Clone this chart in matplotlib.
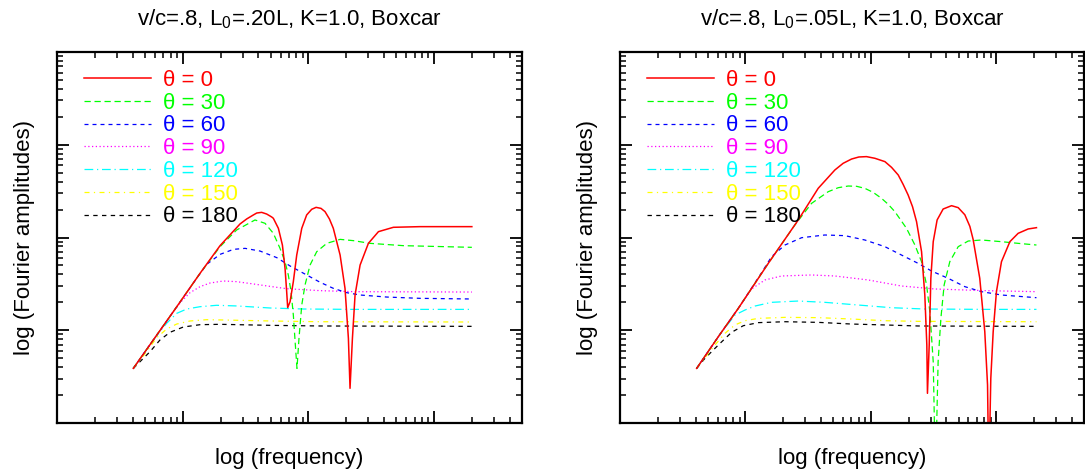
import numpy as np
import matplotlib
matplotlib.use('Agg')
import matplotlib.pyplot as plt
from matplotlib.ticker import LogLocator, NullFormatter

plt.rcParams['font.family'] = ['Liberation Sans', 'DejaVu Sans']
plt.rcParams['mathtext.fontset'] = 'custom'
plt.rcParams['mathtext.rm'] = 'Liberation Sans'
plt.rcParams['mathtext.it'] = 'Liberation Sans:italic'

# ---------------- data (log10 frequency, log10 amplitude) ----------------
thetas = [0, 30, 60, 90, 120, 150, 180]
titles = ['v/c=.8, L$_0$=.20L, K=1.0, Boxcar', 'v/c=.8, L$_0$=.05L, K=1.0, Boxcar']

# Panel 1: L0 = .20L
p1_t0_logf = [0.607, 0.766, 0.925, 1.138, 1.297, 1.456, 1.509, 1.562, 1.589, 1.628, 1.668, 1.708, 1.721, 1.761,
              1.793, 1.814, 1.827, 1.835, 1.854, 1.880, 1.907, 1.947, 1.986, 2.026, 2.061, 2.100, 2.132, 2.167,
              2.198, 2.252, 2.291, 2.318, 2.331, 2.350, 2.371, 2.411, 2.477, 2.557, 2.676, 2.888, 3.30]
p1_t0_logA = [-1.411, -1.105, -0.800, -0.386, -0.088, 0.146, 0.200, 0.243, 0.264, 0.271, 0.253, 0.221, 0.207,
              0.099, -0.081, -0.332, -0.584, -0.756, -0.692, -0.476, -0.189, 0.099, 0.243, 0.304, 0.325, 0.314,
              0.279, 0.200, 0.099, -0.189, -0.548, -1.087, -1.626, -1.087, -0.620, -0.297, -0.063, 0.063, 0.110,
              0.117, 0.117]
p1_t30_logf = [0.607, 0.766, 0.925, 1.138, 1.297, 1.429, 1.575, 1.655, 1.721, 1.774, 1.814, 1.840, 1.862, 1.880,
               1.896, 1.909, 1.925, 1.947, 1.973, 2.013, 2.066, 2.146, 2.252, 2.358, 2.490, 2.755, 3.30]
p1_t30_logA = [-1.411, -1.105, -0.800, -0.386, -0.099, 0.081, 0.189, 0.153, 0.045, -0.117, -0.261, -0.404, -0.584,
               -0.836, -1.159, -1.411, -1.087, -0.728, -0.512, -0.297, -0.153, -0.063, -0.020, -0.034, -0.063,
               -0.088, -0.106]
p1_t60_logf = [0.607, 0.766, 0.925, 1.111, 1.191, 1.297, 1.403, 1.496, 1.615, 1.748, 1.854, 1.986, 2.093, 2.198,
               2.305, 2.411, 2.623, 2.888, 3.30]
p1_t60_logA = [-1.411, -1.105, -0.800, -0.440, -0.289, -0.182, -0.128, -0.117, -0.146, -0.217, -0.307, -0.404,
               -0.483, -0.548, -0.595, -0.620, -0.642, -0.656, -0.663]
p1_t90_logf = [0.607, 0.766, 0.925, 0.992, 1.058, 1.138, 1.217, 1.323, 1.429, 1.562, 1.695, 1.827, 2.093, 2.358, 3.30]
p1_t90_logA = [-1.411, -1.105, -0.800, -0.685, -0.595, -0.530, -0.491, -0.469, -0.476, -0.501, -0.527, -0.552,
               -0.573, -0.584, -0.588]
p1_t120_logf = [0.607, 0.766, 0.872, 0.952, 1.032, 1.138, 1.270, 1.429, 1.695, 1.960, 2.358, 3.30]
p1_t120_logA = [-1.411, -1.105, -0.925, -0.818, -0.771, -0.746, -0.731, -0.738, -0.760, -0.771, -0.775, -0.775]
p1_t150_logf = [0.607, 0.713, 0.793, 0.872, 0.952, 1.058, 1.191, 1.350, 1.695, 2.093, 3.30]
p1_t150_logA = [-1.411, -1.231, -1.080, -0.987, -0.933, -0.900, -0.886, -0.890, -0.900, -0.908, -0.911]
p1_t180_logf = [0.607, 0.740, 0.819, 0.899, 1.005, 1.138, 1.297, 1.695, 2.093, 3.30]
p1_t180_logA = [-1.411, -1.231, -1.105, -1.022, -0.965, -0.940, -0.936, -0.947, -0.954, -0.958]

# Panel 2: L0 = .05L
p2_t0_logf = [0.611, 0.784, 0.943, 1.182, 1.421, 1.580, 1.713, 1.779, 1.846, 1.904, 1.965, 2.032, 2.112, 2.165,
              2.218, 2.257, 2.297, 2.332, 2.364, 2.404, 2.430, 2.446, 2.451, 2.465, 2.478, 2.497, 2.528, 2.576,
              2.643, 2.696, 2.749, 2.789, 2.815, 2.868, 2.908, 2.930, 2.940, 2.956, 2.975, 3.001, 3.041, 3.108,
              3.174, 3.254, 3.320]
p2_t0_logA = [-1.411, -1.069, -0.764, -0.279, 0.189, 0.530, 0.728, 0.800, 0.846, 0.868, 0.872, 0.854, 0.818, 0.756,
              0.674, 0.573, 0.458, 0.332, 0.171, -0.153, -0.620, -1.159, -1.680, -1.159, -0.440, -0.045, 0.189,
              0.307, 0.343, 0.322, 0.245, 0.120, -0.020, -0.440, -1.015, -1.590, -2.6, -1.518, -1.015, -0.584,
              -0.261, -0.045, 0.045, 0.092, 0.106]
p2_t30_logf = [0.611, 0.784, 0.943, 1.182, 1.394, 1.527, 1.660, 1.740, 1.819, 1.886, 1.952, 2.018, 2.085, 2.138,
               2.191, 2.284, 2.351, 2.404, 2.444, 2.470, 2.497, 2.515, 2.536, 2.558, 2.584, 2.629, 2.696, 2.776,
               2.882, 3.041, 3.174, 3.320]
p2_t30_logA = [-1.411, -1.069, -0.764, -0.279, 0.135, 0.368, 0.494, 0.537, 0.555, 0.552, 0.530, 0.487, 0.422,
               0.358, 0.279, 0.099, -0.081, -0.261, -0.512, -0.800, -1.339, -2.6, -1.339, -0.872, -0.512, -0.261,
               -0.099, -0.038, -0.027, -0.045, -0.063, -0.081]
p2_t60_logf = [0.611, 0.784, 0.943, 1.129, 1.208, 1.315, 1.448, 1.633, 1.793, 1.952, 2.112, 2.244, 2.377, 2.483,
               2.616, 2.749, 2.882, 3.041, 3.320]
p2_t60_logA = [-1.411, -1.069, -0.764, -0.379, -0.207, -0.081, -0.002, 0.027, 0.020, -0.027, -0.099, -0.189,
               -0.279, -0.361, -0.440, -0.530, -0.584, -0.620, -0.649]
p2_t90_logf = [0.611, 0.784, 0.943, 1.049, 1.155, 1.288, 1.527, 1.713, 1.979, 2.244, 2.510, 2.908, 3.320]
p2_t90_logA = [-1.411, -1.069, -0.764, -0.555, -0.458, -0.415, -0.404, -0.415, -0.458, -0.523, -0.555, -0.573, -0.584]
p2_t120_logf = [0.611, 0.784, 0.916, 0.996, 1.076, 1.208, 1.421, 1.633, 1.899, 2.165, 2.430, 2.908, 3.320]
p2_t120_logA = [-1.411, -1.069, -0.836, -0.782, -0.739, -0.699, -0.685, -0.699, -0.728, -0.757, -0.771, -0.775, -0.775]
p2_t150_logf = [0.611, 0.757, 0.837, 0.916, 0.996, 1.102, 1.315, 1.580, 1.846, 2.112, 2.377, 3.320]
p2_t150_logA = [-1.411, -1.159, -1.033, -0.943, -0.897, -0.872, -0.861, -0.864, -0.879, -0.897, -0.904, -0.908]
p2_t180_logf = [0.611, 0.677, 0.784, 0.890, 0.983, 1.102, 1.315, 1.580, 1.846, 2.112, 2.377, 3.320]
p2_t180_logA = [-1.411, -1.303, -1.159, -1.022, -0.951, -0.918, -0.908, -0.915, -0.933, -0.943, -0.954, -0.958]

panel1 = [(p1_t0_logf, p1_t0_logA), (p1_t30_logf, p1_t30_logA), (p1_t60_logf, p1_t60_logA),
          (p1_t90_logf, p1_t90_logA), (p1_t120_logf, p1_t120_logA), (p1_t150_logf, p1_t150_logA),
          (p1_t180_logf, p1_t180_logA)]
panel2 = [(p2_t0_logf, p2_t0_logA), (p2_t30_logf, p2_t30_logA), (p2_t60_logf, p2_t60_logA),
          (p2_t90_logf, p2_t90_logA), (p2_t120_logf, p2_t120_logA), (p2_t150_logf, p2_t150_logA),
          (p2_t180_logf, p2_t180_logA)]

# ---------------- styles ----------------
colors = ['#ff0000', '#00ff00', '#0000ff', '#ff00ff', '#00ffff', '#ffff00', '#000000']
dash_patterns = [None, (5, 3), (3.2, 3.2), (1, 2), (7, 3, 1, 3), (4, 3.5, 1, 3.5), (3.5, 3.5)]
FS = 16

fig = plt.figure(figsize=(10.85, 4.75), dpi=100)
axes_rects = [[57 / 1085, 52 / 475, 465 / 1085, 371 / 475],
              [620 / 1085, 52 / 475, 464 / 1085, 371 / 475]]

for rect, title, panel in zip(axes_rects, titles, [panel1, panel2]):
    ax = fig.add_axes(rect)
    handles = [None] * len(thetas)
    for i in reversed(range(len(thetas))):
        lf, la = panel[i]
        line, = ax.plot(10 ** np.array(lf), 10 ** np.array(la), color=colors[i],
                        lw=1.1 if i == 0 else 0.9, label='\u03b8 = %d' % thetas[i])
        if dash_patterns[i] is not None:
            line.set_dashes(dash_patterns[i])
        handles[i] = line
    ax.set_xscale('log')
    ax.set_yscale('log')
    ax.set_xlim(1, 5000)
    ax.set_ylim(1e-2, 1e2)
    for axis in (ax.xaxis, ax.yaxis):
        axis.set_major_locator(LogLocator(base=10, numticks=20))
        axis.set_minor_locator(LogLocator(base=10, subs=np.arange(2, 10), numticks=20))
        axis.set_major_formatter(NullFormatter())
        axis.set_minor_formatter(NullFormatter())
    ax.tick_params(which='both', direction='in', top=True, right=True,
                   labelbottom=False, labelleft=False)
    ax.tick_params(which='major', length=8.6, width=1.3)
    ax.tick_params(which='minor', length=4.3, width=1.1)
    for s in ax.spines.values():
        s.set_linewidth(1.6)
    ax.set_title(title, fontsize=FS, pad=19)
    ax.set_xlabel('log (frequency)', fontsize=FS, labelpad=18)
    ax.set_ylabel('log (Fourier amplitudes)', fontsize=FS, labelpad=16)
    leg = ax.legend(handles=handles, loc='upper left', bbox_to_anchor=(0.058, 0.952), frameon=False,
                    fontsize=FS, handlelength=3.0, handletextpad=0.54, labelspacing=0.08,
                    borderpad=0, borderaxespad=0, labelcolor=colors)

fig.savefig('out.png', dpi=100)
